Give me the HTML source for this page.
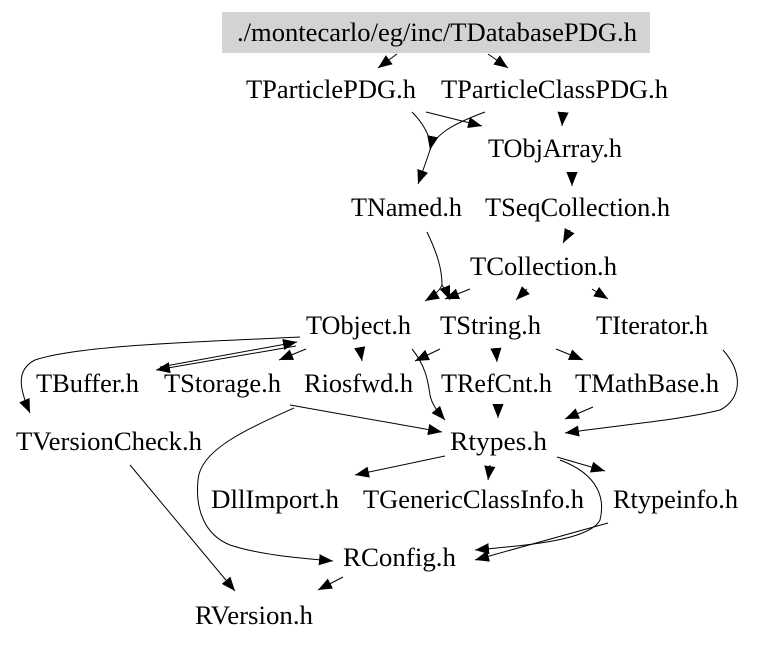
<!DOCTYPE html>
<html><head><meta charset="utf-8"><style>
html,body{margin:0;padding:0;background:#fff;}
svg{display:block;}
text{font-family:"Liberation Serif",serif;font-size:26px;fill:#000;}
path{fill:none;stroke:#000;stroke-width:1;}
</style></head><body>
<svg width="757" height="645" viewBox="0 0 757 645" xmlns="http://www.w3.org/2000/svg">
<defs><marker id="a" viewBox="0 0 10 10" refX="10" refY="5" markerWidth="14" markerHeight="14" markerUnits="userSpaceOnUse" orient="auto"><path d="M0,1 L10,5 L0,9 z" style="fill:#000;stroke:none"/></marker></defs>
<rect x="222" y="12" width="428" height="41" fill="#d3d3d3"/>
<text x="237" y="41" textLength="400" lengthAdjust="spacingAndGlyphs">./montecarlo/eg/inc/TDatabasePDG.h</text>
<text x="246" y="98" textLength="170" lengthAdjust="spacingAndGlyphs">TParticlePDG.h</text>
<text x="441" y="98" textLength="227" lengthAdjust="spacingAndGlyphs">TParticleClassPDG.h</text>
<text x="488" y="157" textLength="134" lengthAdjust="spacingAndGlyphs">TObjArray.h</text>
<text x="351" y="216" textLength="111" lengthAdjust="spacingAndGlyphs">TNamed.h</text>
<text x="485" y="216" textLength="185" lengthAdjust="spacingAndGlyphs">TSeqCollection.h</text>
<text x="470" y="275" textLength="147" lengthAdjust="spacingAndGlyphs">TCollection.h</text>
<text x="306" y="334" textLength="105" lengthAdjust="spacingAndGlyphs">TObject.h</text>
<text x="440" y="334" textLength="101" lengthAdjust="spacingAndGlyphs">TString.h</text>
<text x="596" y="334" textLength="112" lengthAdjust="spacingAndGlyphs">TIterator.h</text>
<text x="36" y="392" textLength="103" lengthAdjust="spacingAndGlyphs">TBuffer.h</text>
<text x="164" y="392" textLength="117" lengthAdjust="spacingAndGlyphs">TStorage.h</text>
<text x="304" y="392" textLength="109" lengthAdjust="spacingAndGlyphs">Riosfwd.h</text>
<text x="441" y="392" textLength="111" lengthAdjust="spacingAndGlyphs">TRefCnt.h</text>
<text x="575" y="392" textLength="144" lengthAdjust="spacingAndGlyphs">TMathBase.h</text>
<text x="16" y="450" textLength="186" lengthAdjust="spacingAndGlyphs">TVersionCheck.h</text>
<text x="450" y="450" textLength="97" lengthAdjust="spacingAndGlyphs">Rtypes.h</text>
<text x="211" y="508" textLength="128" lengthAdjust="spacingAndGlyphs">DllImport.h</text>
<text x="363" y="508" textLength="221" lengthAdjust="spacingAndGlyphs">TGenericClassInfo.h</text>
<text x="613" y="508" textLength="125" lengthAdjust="spacingAndGlyphs">Rtypeinfo.h</text>
<text x="343" y="566" textLength="113" lengthAdjust="spacingAndGlyphs">RConfig.h</text>
<text x="195" y="624" textLength="118" lengthAdjust="spacingAndGlyphs">RVersion.h</text>
<g marker-end="url(#a)">
<path d="M397,54 L378,68"/>
<path d="M488,54 L508,68"/>
<path d="M426,112 L482,126"/>
<path d="M563,113 L562,126"/>
<path d="M485,112 C450,125 435,135 430,150 C425,165 423,170 418,184"/>
<path d="M412,112 C425,125 432,140 430,150"/>
<path d="M572,172 L572,186"/>
<path d="M570,230 L563,243"/>
<path d="M427,232 C438,255 442,270 442,285 C440,290 435,295 425,301"/>
<path d="M442,285 C445,290 448,295 450,300"/>
<path d="M470,289 L445,299"/>
<path d="M527,289 L516,300"/>
<path d="M592,289 L608,299"/>
<path d="M300,337 C200,342 80,345 35,360 C15,370 20,390 30,413"/>
<path d="M296,346 L156,370"/>
<path d="M160,367 L297,342"/>
<path d="M306,349 L279,360"/>
<path d="M360,349 L362,361"/>
<path d="M412,349 C425,365 428,380 430,395 C432,405 438,412 445,420"/>
<path d="M440,349 L415,361"/>
<path d="M496,349 L497,362"/>
<path d="M556,349 L583,360"/>
<path d="M290,405 L442,432"/>
<path d="M498,407 L498,418"/>
<path d="M593,407 L565,419"/>
<path d="M723,350 C745,375 740,400 720,410 C680,420 620,425 565,433"/>
<path d="M445,456 L355,475"/>
<path d="M490,465 L488,480"/>
<path d="M557,457 L605,471"/>
<path d="M294,408 C245,430 200,450 198,480 C195,510 205,535 230,545 C260,555 300,558 333,561"/>
<path d="M560,460 C600,475 605,500 600,520 C590,540 530,545 475,550"/>
<path d="M608,523 L475,560"/>
<path d="M130,465 L235,591"/>
<path d="M343,577 L318,590"/>
</g>
</svg>
</body></html>
